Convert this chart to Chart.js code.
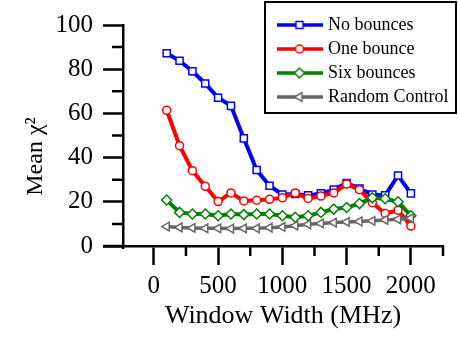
<!DOCTYPE html>
<html lang="en">

<head>
    <meta charset="UTF-8">
    <title>Mean chi2 vs window width</title>
    <style>
        body {
            margin: 0;
            background: #fff;
        }

        .chart-container {
            width: 458px;
            height: 338px;
        }
    </style>
</head>

<body>
    <div class="chart-container">
        <canvas id="myChart"></canvas>
    </div>

    <script src="https://cdn.jsdelivr.net/npm/chart.js"></script>
    <script>
        // data
        const windowWidth = [100, 200, 300, 400, 500, 600, 700, 800, 900, 1000,
            1100, 1200, 1300, 1400, 1500, 1600, 1700, 1800, 1900, 2000];
        const noBounces = [87.2, 83.8, 79.1, 73.5, 67.1, 63.4, 48.7, 34.4, 27.3, 23.3,
            23.5, 22.9, 23.8, 25.5, 28.5, 26.0, 23.3, 22.9, 31.9, 23.8];
        const oneBounce = [61.4, 45.4, 34.1, 27.0, 20.1, 24.0, 20.4, 20.7, 21.1, 21.8,
            24.0, 21.5, 22.6, 24.0, 28.0, 25.5, 19.6, 14.7, 16.2, 9.0];
        const sixBounces = [20.8, 15.2, 14.5, 14.5, 13.7, 14.5, 14.2, 14.5, 14.5, 13.7,
            13.0, 13.7, 15.2, 16.7, 17.4, 19.2, 21.8, 21.4, 20.0, 13.7];
        const randomControl = [8.8, 8.4, 8.2, 8.0, 8.0, 7.9, 8.0, 8.0, 8.3, 8.6,
            9.2, 9.8, 10.2, 10.6, 10.9, 11.1, 11.4, 11.8, 12.1, 12.6];

        const xTicks = [0, 500, 1000, 1500, 2000];
        const yTicks = [0, 20, 40, 60, 80, 100];

        Chart.defaults.font.family = '"Liberation Serif", "Times New Roman", serif';
        Chart.defaults.color = '#000';

        const ctx = document.getElementById('myChart').getContext('2d');

        function points(values) {
            return windowWidth.map((x, i) => ({ x: x, y: values[i] }));
        }

        // small line + marker picture for each legend entry
        function legendSymbol(color, style, radius, rotation) {
            const c = document.createElement('canvas');
            c.width = 46;
            c.height = 14;
            const g = c.getContext('2d');
            g.strokeStyle = color;
            g.lineWidth = 3.5;
            g.beginPath();
            g.moveTo(0, 7);
            g.lineTo(46, 7);
            g.stroke();
            g.fillStyle = '#fff';
            g.lineWidth = 1.5;
            Chart.helpers.drawPoint(g, { pointStyle: style, radius: radius, rotation: rotation, borderWidth: 1.5 }, 23, 7);
            return c;
        }

        const legendSymbols = [
            legendSymbol('#0000ff', 'rect', 5, 0),
            legendSymbol('#ff0000', 'circle', 4, 0),
            legendSymbol('#008000', 'rectRot', 5, 0),
            legendSymbol('#666666', 'triangle', 5, -90)
        ];

        // put the legend box in the top right corner, over the plot
        const legendPlacer = {
            id: 'legendPlacer',
            afterLayout(chart) {
                const lg = chart.legend;
                lg.left = chart.width - 184;
                lg.top = 10;
                lg.width = 180;
                lg.height = 104;
                lg.right = lg.left + lg.width;
                lg.bottom = lg.top + lg.height;
            }
        };

        const axisExtras = {
            id: 'axisExtras',
            afterDraw(chart) {
                const { ctx, chartArea: a, scales: { x, y } } = chart;
                ctx.save();
                ctx.strokeStyle = '#000';
                ctx.lineWidth = 2.5;
                ctx.beginPath();
                // minor ticks
                x.ticks.forEach(t => {
                    if (!xTicks.includes(t.value)) {
                        const px = x.getPixelForValue(t.value);
                        ctx.moveTo(px, a.bottom);
                        ctx.lineTo(px, a.bottom + 10);
                    }
                });
                y.ticks.forEach(t => {
                    if (!yTicks.includes(t.value)) {
                        const py = y.getPixelForValue(t.value);
                        ctx.moveTo(a.left - 11, py);
                        ctx.lineTo(a.left, py);
                    }
                });
                // x axis runs on past the y axis
                ctx.moveTo(a.left - 20, a.bottom);
                ctx.lineTo(a.left, a.bottom);
                ctx.moveTo(a.left, a.bottom);
                ctx.lineTo(a.left, a.bottom + 3);
                ctx.stroke();
                // legend frame
                const lg = chart.legend;
                ctx.lineWidth = 2;
                ctx.strokeRect(lg.left - 9, lg.top - 8, 191, 111);
                ctx.restore();
            }
        };

        const myChart = new Chart(ctx, {
            type: 'line',
            data: {
                datasets: [{
                    label: 'No bounces',
                    data: points(noBounces),
                    borderColor: '#0000ff',
                    borderWidth: 4,
                    pointStyle: 'rect',
                    pointRadius: 5,
                    pointBackgroundColor: '#fff',
                    pointBorderColor: '#0000ff',
                    pointBorderWidth: 1.5,
                    order: 4
                }, {
                    label: 'One bounce',
                    data: points(oneBounce),
                    borderColor: '#ff0000',
                    borderWidth: 4,
                    pointStyle: 'circle',
                    pointRadius: 4,
                    pointBackgroundColor: '#fff',
                    pointBorderColor: '#ff0000',
                    pointBorderWidth: 1.5,
                    order: 3
                }, {
                    label: 'Six bounces',
                    data: points(sixBounces),
                    borderColor: '#008000',
                    borderWidth: 4,
                    pointStyle: 'rectRot',
                    pointRadius: 5,
                    pointBackgroundColor: '#fff',
                    pointBorderColor: '#008000',
                    pointBorderWidth: 1.5,
                    order: 2
                }, {
                    label: 'Random Control',
                    data: points(randomControl),
                    borderColor: '#666666',
                    borderWidth: 3.5,
                    pointStyle: 'triangle',
                    pointRotation: -90,
                    pointRadius: 5,
                    pointBackgroundColor: '#fff',
                    pointBorderColor: '#666666',
                    pointBorderWidth: 1.5,
                    order: 1
                }]
            },
            options: {
                responsive: true,
                maintainAspectRatio: false,
                animation: false,
                layout: {
                    padding: { left: 0, right: 15, top: 20, bottom: 0 }
                },
                plugins: {
                    tooltip: { enabled: false },
                    legend: {
                        position: 'chartArea',
                        align: 'start',
                        fullSize: false,
                        labels: {
                            usePointStyle: true,
                            pointStyleWidth: 39,
                            boxHeight: 18,
                            padding: 6,
                            font: { size: 18 },
                            color: '#000',
                            generateLabels: chart => chart.data.datasets.map((ds, i) => ({
                                text: ds.label,
                                pointStyle: legendSymbols[i],
                                datasetIndex: i,
                                fillStyle: 'transparent',
                                strokeStyle: 'transparent',
                                lineWidth: 0,
                                fontColor: '#000',
                                hidden: false
                            }))
                        }
                    }
                },
                scales: {
                    x: {
                        type: 'linear',
                        min: -240,
                        max: 2250,
                        // ticks every 250, starting at 0 (labels only on the 500s)
                        afterBuildTicks: s => {
                            const t = [];
                            for (let v = 0; v <= s.max; v += 250) t.push({ value: v });
                            s.ticks = t;
                        },
                        grid: {
                            drawOnChartArea: false,
                            tickLength: 19,
                            tickWidth: 2.5,
                            tickColor: c => xTicks.includes(c.tick.value) ? '#000' : 'rgba(0,0,0,0)'
                        },
                        border: { color: '#000', width: 2.5 },
                        ticks: {
                            autoSkip: false,
                            maxRotation: 0,
                            padding: 6,
                            font: { size: 25 },
                            callback: v => xTicks.includes(v) ? String(v) : ''
                        },
                        title: {
                            display: true,
                            text: 'Window Width (MHz)',
                            font: { size: 26 },
                            padding: { top: 0, bottom: 6 }
                        },
                        afterFit: s => { s.height = 92; }
                    },
                    y: {
                        min: 0,
                        max: 100,
                        grid: {
                            drawOnChartArea: false,
                            tickLength: 20,
                            tickWidth: 2.5,
                            tickColor: c => yTicks.includes(c.tick.value) ? '#000' : 'rgba(0,0,0,0)'
                        },
                        border: { color: '#000', width: 2.5 },
                        ticks: {
                            stepSize: 10,
                            autoSkip: false,
                            padding: 10,
                            font: { size: 25 },
                            callback: v => yTicks.includes(v) ? String(v) : ''
                        },
                        title: {
                            display: true,
                            text: 'Mean \u03c7\u00b2       ',
                            font: { size: 24 },
                            padding: { top: 21, bottom: 0 }
                        },
                        afterFit: s => { s.width = 123; }
                    }
                }
            },
            plugins: [legendPlacer, axisExtras]
        });
    </script>
</body>

</html>
